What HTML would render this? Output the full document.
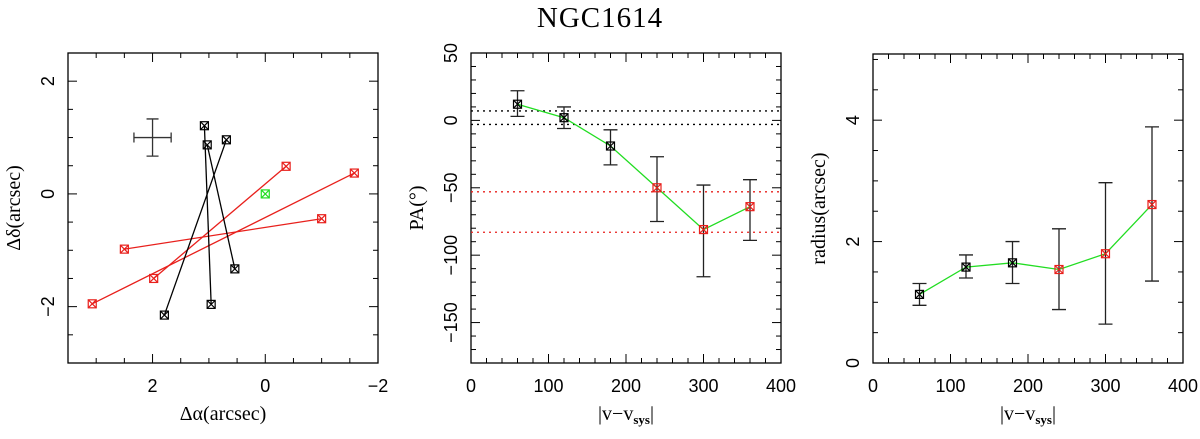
<!DOCTYPE html>
<html><head><meta charset="utf-8"><style>
body{margin:0;background:#fff;}
svg{display:block;}
.sans{font-family:"Liberation Sans",sans-serif;}
.serif{font-family:"Liberation Serif",serif;}
</style></head><body>
<svg id="fig" width="1200" height="439" viewBox="0 0 1200 439" xmlns="http://www.w3.org/2000/svg">
<text class="serif" x="600" y="27" text-anchor="middle" font-size="29" letter-spacing="1">NGC1614</text>
</svg>
<script>
// Panel 1 data (offsets in arcsec)
const redStartX=[2.5,3.07,1.98];
const redStartY=[-0.98,-1.95,-1.5];
const redEndX=[-1.0,-1.58,-0.37];
const redEndY=[-0.44,0.37,0.49];
const blackStartX=[1.79,0.96,0.54];
const blackStartY=[-2.15,-1.96,-1.33];
const blackEndX=[0.69,1.08,1.03];
const blackEndY=[0.96,1.21,0.87];
const centerX=[0];const centerY=[0];
// Panels 2/3 data
const velocities=[60,120,180,240,300,360];
const pointColors=["black","black","black","red","red","red"];
const paValues=[12,2,-19,-50,-81,-64];
const paErrHigh=[22,10,-7,-27,-48,-44];
const paErrLow=[3,-6,-33,-75,-116,-89];
const paLinesBlack=[7,-3];
const paLinesRed=[-53,-83];
const radiusValues=[1.13,1.58,1.65,1.54,1.80,2.61];
const radiusErrHigh=[1.31,1.78,2.0,2.21,2.97,3.89];
const radiusErrLow=[0.95,1.40,1.31,0.88,0.64,1.35];

const svg=document.getElementById('fig');
const NS="http://www.w3.org/2000/svg";
function mk(tag,attrs,parent){const e=document.createElementNS(NS,tag);for(const k in attrs)e.setAttribute(k,attrs[k]);(parent||svg).appendChild(e);return e;}
function lin(d0,d1,r0,r1){return v=>r0+(v-d0)*(r1-r0)/(d1-d0);}

function axes(p){
  const g=mk('g',{});
  
  
  const fr=mk('rect',{x:p.x0,y:p.y0,width:p.x1-p.x0,height:p.y1-p.y0,fill:'none',stroke:'#000','stroke-width':1.3},g);
  
  
  const sx=lin(p.xd[0],p.xd[1],p.x0,p.x1), sy=lin(p.yd[0],p.yd[1],p.y1,p.y0);
  const lo=Math.min(...p.xd),hi=Math.max(...p.xd);
  for(let v=Math.ceil(lo/p.xmin-1e-9)*p.xmin;v<=hi+1e-9;v+=p.xmin){
    const X=sx(v);const maj=Math.abs(v/p.xmaj-Math.round(v/p.xmaj))<1e-6;const L=maj?9:5;
    mk('line',{x1:X,x2:X,y1:p.y1,y2:p.y1-L,stroke:'#000','stroke-width':1},g);
    mk('line',{x1:X,x2:X,y1:p.y0,y2:p.y0+L,stroke:'#000','stroke-width':1},g);
    if(maj){const t=mk('text',{class:'sans',x:X,y:p.y1+29,'text-anchor':'middle','font-size':18},g);t.textContent=String(Math.round(v)).replace('-','\u2212');
      }
  }
  const ylo=Math.min(...p.yd),yhi=Math.max(...p.yd);
  for(let v=Math.ceil(ylo/p.ymin-1e-9)*p.ymin;v<=yhi+1e-9;v+=p.ymin){
    const Y=sy(v);const maj=Math.abs(v/p.ymaj-Math.round(v/p.ymaj))<1e-6;const L=maj?9:5;
    mk('line',{x1:p.x0,x2:p.x0+L,y1:Y,y2:Y,stroke:'#000','stroke-width':1},g);
    mk('line',{x1:p.x1,x2:p.x1-L,y1:Y,y2:Y,stroke:'#000','stroke-width':1},g);
    if(maj){const t=mk('text',{class:'sans',x:0,y:0,'text-anchor':'middle','font-size':18,transform:`translate(${p.x0-14},${Y}) rotate(-90)`},g);t.textContent=String(Math.round(v*10)/10).replace('-','\u2212');
      }
  }
  const xt=mk('text',{class:'serif',x:(p.x0+p.x1)/2,y:p.y1+57,'text-anchor':'middle','font-size':20},g);
  xt.innerHTML=p.xlabel;
  
  const yt=mk('text',{class:'serif',x:0,y:0,'text-anchor':'middle','font-size':20,transform:`translate(${p.x0-48},${(p.y0+p.y1)/2}) rotate(-90)`},g);
  yt.innerHTML=p.ylabel;
  
  return {sx,sy,g};
}
function marker(X,Y,c,g){
  const m=mk('g',{},g);
  
  
  mk('rect',{x:X-4,y:Y-4,width:8,height:8,fill:'none',stroke:c,'stroke-width':1.2},m);
  mk('path',{d:`M${X-4} ${Y-4}L${X+4} ${Y+4}M${X+4} ${Y-4}L${X-4} ${Y+4}`,stroke:c,'stroke-width':1.2},m);
}

// Panel 1
const A=axes({name:'offset-panel',x0:68,x1:378,y0:53,y1:363,xd:[3.5,-2],yd:[-3,2.5],xmaj:2,xmin:0.5,ymaj:2,ymin:0.5,
  xlabel:'\u0394\u03b1(arcsec)',ylabel:'\u0394\u03b4(arcsec)'});
function arrows(sx0,sy0,ex,ey,c){
  for(let i=0;i<sx0.length;i++){
    const l=mk('line',{x1:A.sx(sx0[i]),y1:A.sy(sy0[i]),x2:A.sx(ex[i]),y2:A.sy(ey[i]),stroke:c,'stroke-width':1.3},A.g);
    
    marker(A.sx(sx0[i]),A.sy(sy0[i]),c,A.g);marker(A.sx(ex[i]),A.sy(ey[i]),c,A.g);
  }
}
arrows(redStartX,redStartY,redEndX,redEndY,'#e8201c');
arrows(blackStartX,blackStartY,blackEndX,blackEndY,'#000');
marker(A.sx(centerX[0]),A.sy(centerY[0]),'#22dd22',A.g);
const eb=mk('path',{d:`M${A.sx(2.33)} ${A.sy(1)}H${A.sx(1.67)}M${A.sx(2.33)} ${A.sy(1)-5}v10M${A.sx(1.67)} ${A.sy(1)-5}v10M${A.sx(2)} ${A.sy(1.33)}V${A.sy(0.67)}M${A.sx(2)-6} ${A.sy(1.33)}h12M${A.sx(2)-6} ${A.sy(0.67)}h12`,stroke:'#333','stroke-width':1.3,fill:'none'},A.g);


function seriesPanel(P,vals,hi,lo){
  const pts=velocities.map((v,i)=>`${P.sx(v)},${P.sy(vals[i])}`).join(' ');
  const pl=mk('polyline',{points:pts,fill:'none',stroke:'#22dd22','stroke-width':1.3},P.g);
  
  velocities.forEach((v,i)=>{
    const X=P.sx(v);
    const e=mk('path',{d:`M${X} ${P.sy(hi[i])}V${P.sy(lo[i])}M${X-7} ${P.sy(hi[i])}h14M${X-7} ${P.sy(lo[i])}h14`,stroke:'#222','stroke-width':1.3,fill:'none'},P.g);
    
    marker(X,P.sy(vals[i]),pointColors[i]==='red'?'#e8201c':'#000',P.g);
  });
}
const vlabel='|v\u2212v<tspan font-size="13" font-weight="bold" dy="4">sys</tspan><tspan dy="-4">|</tspan>';
// Panel 2
const B=axes({name:'pa-panel',x0:471,x1:781,y0:53,y1:363,xd:[0,400],yd:[-180,50],xmaj:100,xmin:20,ymaj:50,ymin:10,
  xlabel:vlabel,ylabel:'PA(\u00b0)'});
paLinesBlack.forEach(v=>{const l=mk('line',{x1:B.sx(0),x2:B.sx(400),y1:B.sy(v),y2:B.sy(v),stroke:'#000','stroke-width':1.3,'stroke-dasharray':'2 4'},B.g);
  });
paLinesRed.forEach(v=>{const l=mk('line',{x1:B.sx(0),x2:B.sx(400),y1:B.sy(v),y2:B.sy(v),stroke:'#e8201c','stroke-width':1.3,'stroke-dasharray':'2 4'},B.g);
  });
seriesPanel(B,paValues,paErrHigh,paErrLow);
// Panel 3
const C=axes({name:'radius-panel',x0:873,x1:1183,y0:54,y1:363,xd:[0,400],yd:[0,5.09],xmaj:100,xmin:20,ymaj:2,ymin:0.5,
  xlabel:vlabel,ylabel:'radius(arcsec)'});
seriesPanel(C,radiusValues,radiusErrHigh,radiusErrLow);
</script>
</body></html>
